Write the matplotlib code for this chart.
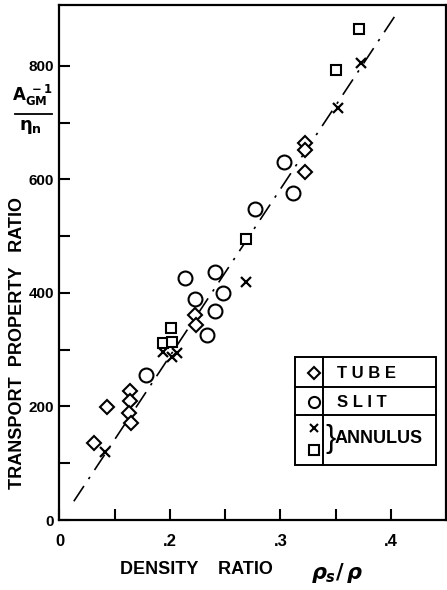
import matplotlib

matplotlib.use("Agg")
import matplotlib.pyplot as plt
from matplotlib.patches import Rectangle
from matplotlib.ticker import FixedLocator

plt.rcParams["font.family"] = ["Liberation Sans Narrow", "Liberation Sans", "DejaVu Sans"]
plt.rcParams["font.weight"] = "bold"

# --- data ---
tube_x = [0.131, 0.143, 0.164, 0.164, 0.163, 0.165, 0.223, 0.224, 0.322, 0.322, 0.322]
tube_y = [136, 199, 228, 210, 189, 170, 361, 344, 664, 651, 613]

slit_x = [0.178, 0.214, 0.223, 0.234, 0.241, 0.241, 0.248, 0.277, 0.303, 0.311]
slit_y = [255, 427, 389, 326, 368, 436, 400, 548, 630, 576]

cross_x = [0.141, 0.194, 0.202, 0.206, 0.269, 0.352, 0.373]
cross_y = [119, 296, 287, 295, 419, 726, 805]

square_x = [0.194, 0.201, 0.202, 0.269, 0.350, 0.371]
square_y = [311, 338, 314, 495, 793, 865]

fit_x = [0.113, 0.4045]
fit_y = [33, 890]

x_ticks = [0.1, 0.2, 0.3, 0.4]
x_tick_labels = ["0", ".2", ".3", ".4"]
x_minor = [0.15, 0.25, 0.35]
y_ticks = [0, 200, 400, 600, 800]
y_minor = [100, 300, 500, 700]

fig = plt.figure(figsize=(4.47, 5.90), dpi=100)
ax = fig.add_axes([0.133, 0.1186, 0.865, 0.873])

ax.plot(fit_x, fit_y, color="black", lw=1.2, dashes=(11, 5, 1.5, 5))

ax.plot(tube_x, tube_y, linestyle="None", marker="D", markersize=7.5,
        mfc="white", mec="black", mew=1.5)
ax.plot(slit_x, slit_y, linestyle="None", marker="o", markersize=10,
        mfc="white", mec="black", mew=1.5)
ax.plot(cross_x, cross_y, linestyle="None", marker="x", markersize=6.5,
        color="black", mew=1.6)
ax.plot(square_x, square_y, linestyle="None", marker="s", markersize=7,
        mfc="white", mec="black", mew=1.5)

ax.set_xlim(0.1, 0.45)
ax.set_ylim(0, 907)
ax.set_xticks(x_ticks)
ax.set_xticklabels(x_tick_labels)
ax.xaxis.set_minor_locator(FixedLocator(x_minor))
ax.set_yticks(y_ticks)
ax.yaxis.set_minor_locator(FixedLocator(y_minor))
ax.tick_params(which="both", direction="in", length=8, width=1.5,
               labelsize=11, pad=4)
ax.tick_params(axis="x", labelsize=12, pad=10)
for lab in ax.get_xticklabels() + ax.get_yticklabels():
    lab.set_fontweight("bold")
for s in ax.spines.values():
    s.set_linewidth(1.6)

# legend table drawn by hand
box = dict(transform=ax.transAxes, fill=False, lw=1.4, ec="black", clip_on=False)
ax.add_patch(Rectangle((0.609, 0.107), 0.364, 0.209, **box))
ax.plot([0.609, 0.973], [0.259, 0.259], transform=ax.transAxes, color="black", lw=1.4)
ax.plot([0.609, 0.973], [0.204, 0.204], transform=ax.transAxes, color="black", lw=1.4)
ax.plot([0.6825, 0.6825], [0.107, 0.316], transform=ax.transAxes, color="black", lw=1.4)
ax.plot([0.658], [0.285], transform=ax.transAxes, marker="D", ms=6.5,
        mfc="white", mec="black", mew=1.5)
ax.plot([0.658], [0.229], transform=ax.transAxes, marker="o", ms=8,
        mfc="white", mec="black", mew=1.5)
ax.plot([0.658], [0.179], transform=ax.transAxes, marker="x", ms=5.5,
        color="black", mew=1.5)
ax.plot([0.658], [0.136], transform=ax.transAxes, marker="s", ms=6.5,
        mfc="white", mec="black", mew=1.5)
ax.text(0.717, 0.285, "T U B E", transform=ax.transAxes, fontsize=12,
        fontweight="bold", va="center", ha="left")
ax.text(0.717, 0.229, "S L I T", transform=ax.transAxes, fontsize=12,
        fontweight="bold", va="center", ha="left")
ax.text(0.688, 0.158, "}", transform=ax.transAxes, fontsize=22,
        fontweight="normal", va="center", ha="left")
ax.text(0.712, 0.159, "ANNULUS", transform=ax.transAxes, fontsize=13,
        fontweight="bold", va="center", ha="left")

# axis titles
fig.text(0.040, 0.418, "TRANSPORT  PROPERTY   RATIO", rotation=90,
         fontsize=13, fontweight="bold", ha="center", va="center")
fig.text(0.44, 0.034, "DENSITY    RATIO", fontsize=13, fontweight="bold",
         ha="center", va="center")
fig.text(0.755, 0.028, r"$\rho_s/\,\rho$", fontsize=15, ha="center", va="center")
fig.text(0.072, 0.838, r"$\mathbf{A_{GM}^{\ -1}}$", fontsize=12, ha="center", va="center")
fig.add_artist(plt.Line2D([0.034, 0.116], [0.807, 0.807],
                          transform=fig.transFigure, color="black", lw=1.3))
fig.text(0.068, 0.785, r"$\mathbf{\eta_n}$", fontsize=13, ha="center", va="center")

fig.savefig("out.png", dpi=100)
